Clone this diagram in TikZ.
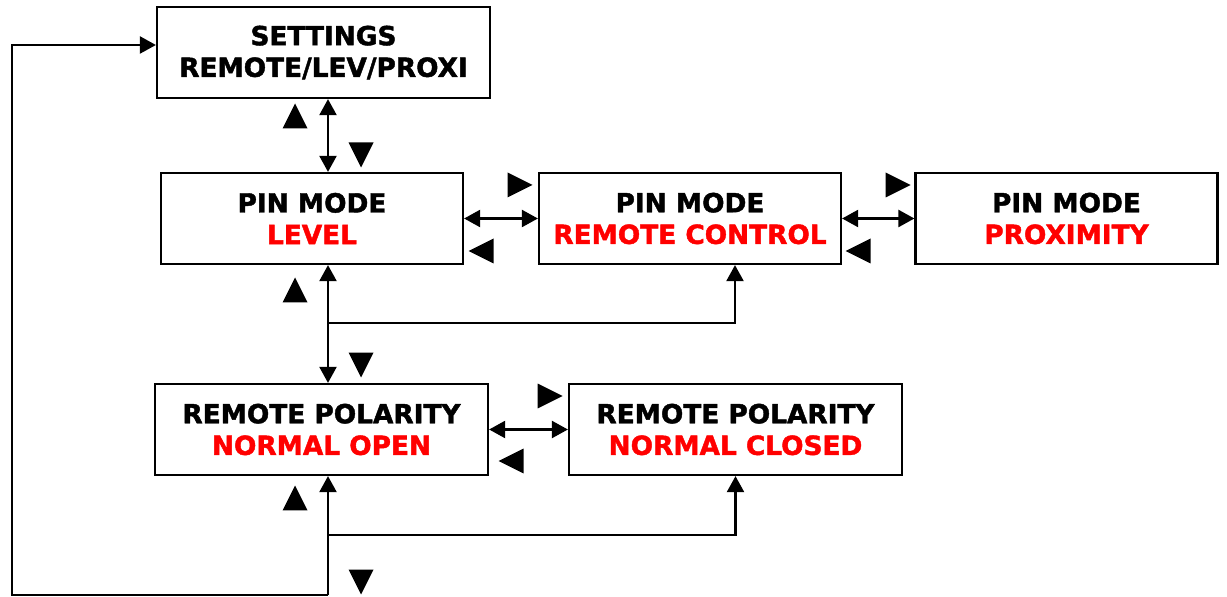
\documentclass[tikz,border=0pt]{standalone}
\usepackage{fontspec}
\setmainfont{DejaVu Sans}[BoldFeatures={FakeBold=1.6}]
\usepackage{tikz}
\usetikzlibrary{arrows.meta,positioning,calc}
\usepackage{xcolor}

\begin{document}
\begin{tikzpicture}[x=0.02cm,y=-0.02cm,>={Triangle[length=0.32cm,width=0.34cm]},
  font=\fontsize{15}{18}\selectfont\bfseries,
  box/.style={draw,line width=1.3pt,align=center,minimum height=1.82cm,inner sep=2pt},
  wbox/.style={box,minimum width=6.66cm},
  nbox/.style={box,minimum width=6.04cm},
  ln/.style={line width=1.3pt},
  tri/.pic={\fill (-0.25cm,-0.25cm) -- (0.25cm,-0.25cm) -- (0cm,0.25cm) -- cycle;}]

  \useasboundingbox (0,0) rectangle (1227,597);

  % boxes (pixel positions of the centres)
  \node[wbox] (set)  at (323.5,52.5)  {SETTINGS\\REMOTE/LEV/PROXI};
  \node[nbox] (lev)  at (312,218.5)   {PIN MODE\\{\color{red}LEVEL}};
  \node[nbox] (rc)   at (690,218.5)   {PIN MODE\\{\color{red}REMOTE CONTROL}};
  \node[nbox] (prox) at (1066.5,218.5) {PIN MODE\\{\color{red}PROXIMITY}};
  \node[wbox] (no)   at (321.5,429.5) {REMOTE POLARITY\\{\color{red}NORMAL OPEN}};
  \node[wbox] (nc)   at (735.5,429.5) {REMOTE POLARITY\\{\color{red}NORMAL CLOSED}};

  % helper points of the wiring
  \coordinate (spine) at (328,595);
  \coordinate (j1) at (328,323);
  \coordinate (j1b) at (735,323);
  \coordinate (j2) at (328,535);
  \coordinate (loopx) at (12,595);

  % ---- connectors ----
  \draw[ln,<->] (set.south -| spine) -- (lev.north -| spine);
  \draw[ln,<->] (lev.east) -- (rc.west);
  \draw[ln,<->] (rc.east) -- (prox.west);
  \draw[ln,<->] (lev.south -| spine) -- (no.north -| spine);
  \draw[ln,->] (j1) -- (j1b) -- (rc.south -| j1b);
  \draw[ln,<->] (no.east) -- (nc.west);
  \draw[ln,->] (spine) -- (no.south -| spine);
  \draw[ln,->] (j2) -| (nc.south);
  \draw[ln,->] (spine) -- (loopx) |- ([yshift=0.15cm]set.west);

  % ---- key markers ----
  \foreach \x/\y/\r in {295/116/0, 295/290/0, 295/498/0,
                        361/155/180, 361/365/180, 361/582/180,
                        520/185/-90, 898/185/-90, 550/396/-90,
                        481/251/90, 858/251/90, 511/461/90}
    \pic[rotate=\r] at (\x,\y) {tri};
\end{tikzpicture}
\end{document}
